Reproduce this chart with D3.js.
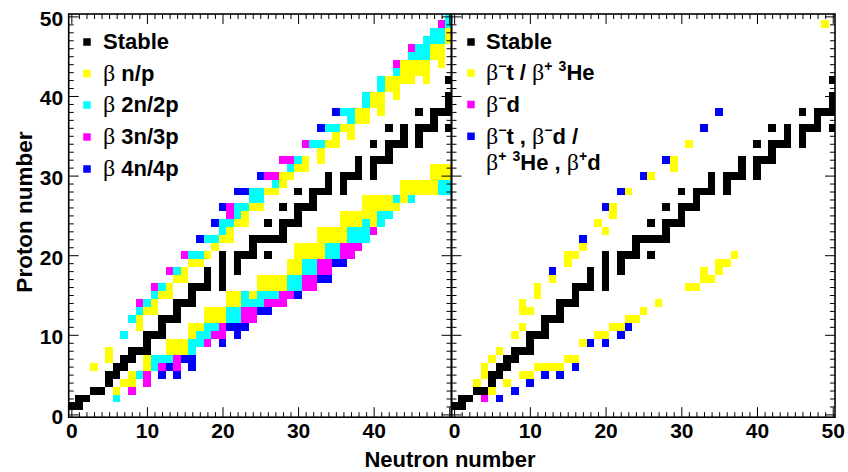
<!DOCTYPE html>
<html>
<head>
<meta charset="utf-8">
<script src="https://cdn.jsdelivr.net/npm/d3@7"></script>
<style>
  body { margin: 0; background: #fff; }
  svg { display: block; }
</style>
</head>
<body>
<svg id="chart" width="848" height="472"></svg>
<script>
// ---- Cells are [N, Z] pairs (neutron number, proton number) ----

// Stable nuclides (drawn in both panels)
const stable = [
  [0,1],[1,1],[1,2],[2,2],[3,3],[4,3],[5,4],[5,5],[6,5],[6,6],[7,6],[7,7],[8,7],
  [8,8],[9,8],[10,8],[10,9],[10,10],[11,10],[12,10],[12,11],[12,12],[13,12],[14,12],
  [14,13],[14,14],[15,14],[16,14],[16,15],[16,16],[17,16],[18,16],[20,16],[18,17],[20,17],
  [18,18],[20,18],[22,18],[20,19],[22,19],[20,20],[22,20],[23,20],[24,20],[26,20],[24,21],
  [24,22],[25,22],[26,22],[27,22],[28,22],[28,23],[26,24],[28,24],[29,24],[30,24],[30,25],
  [28,26],[30,26],[31,26],[32,26],[32,27],[30,28],[32,28],[33,28],[34,28],[36,28],[34,29],[36,29],
  [34,30],[36,30],[37,30],[38,30],[40,30],[38,31],[40,31],[38,32],[40,32],[41,32],[42,32],[42,33],
  [40,34],[42,34],[43,34],[44,34],[46,34],[44,35],[46,35],[42,36],[44,36],[46,36],[47,36],[48,36],[50,36],
  [48,37],[46,38],[48,38],[49,38],[50,38],[50,39],[50,40],[50,42]
];

// Left panel: beta-delayed emission of one nucleon
const betaOne = [
  [3,6],[5,7],[5,8],[9,11],[9,12],[10,13],[11,13],[11,14],[12,15],[13,15],[13,16],[14,17],[15,17],
  [15,18],[16,19],[17,19],[18,20],[19,21],[20,22],[21,22],[21,23],[22,24],[23,24],[23,25],[24,26],
  [25,26],[26,28],[27,28],[28,29],[28,30],[29,30],[30,31],[31,31],[31,32],[33,32],[33,33],[34,34],
  [35,34],[35,35],[37,35],[36,36],[37,36],[38,37],[39,37],[38,38],[39,38],[41,38],[40,39],[41,39],
  [40,40],[41,40],[43,40],[42,41],[43,41],[42,42],[43,42],[44,42],[45,42],[47,42],[44,43],[45,43],
  [46,43],[47,43],[44,44],[45,44],[46,44],[47,44],[49,44],[48,45],[49,45],[48,46],[49,46],[50,47],[50,48],
  [6,3],[7,4],[8,4],[8,5],[10,6],[10,7],[13,8],[14,8],[15,8],[13,9],[14,9],[15,9],[16,10],[16,11],
  [17,11],[18,12],[19,12],[20,12],[18,13],[19,13],[20,13],[21,14],[22,14],[21,15],[22,15],[24,15],
  [25,16],[26,16],[27,16],[28,16],[25,17],[26,17],[27,17],[28,17],[29,18],[30,18],[29,19],[30,19],
  [30,20],[31,20],[32,20],[33,20],[30,21],[31,21],[32,21],[33,21],[33,22],[34,22],[35,22],[36,22],
  [33,23],[34,23],[35,23],[36,23],[36,24],[37,24],[38,24],[40,24],[36,25],[37,25],[38,25],[39,25],
  [40,25],[39,26],[40,26],[41,26],[42,26],[43,26],[39,27],[40,27],[41,27],[42,27],[44,27],[44,28],
  [45,28],[46,28],[47,28],[48,28],[44,29],[45,29],[46,29],[47,29],[48,29],[48,30],[49,30],[50,30],
  [48,31],[49,31],[50,31]
];

// Left panel: two nucleons
const betaTwo = [
  [7,10],[8,12],[9,13],[10,14],[11,15],[12,16],[14,18],[16,20],[17,20],[18,22],[19,22],[20,23],
  [20,24],[21,24],[22,25],[22,26],[23,26],[24,27],[25,27],[24,28],[25,28],[27,29],[29,31],[30,32],
  [32,34],[33,34],[34,36],[35,36],[37,37],[36,38],[37,38],[39,39],[39,40],[41,41],[41,42],[43,43],
  [45,45],[46,45],[47,45],[46,46],[47,46],[47,47],[48,47],[49,47],[48,48],[49,48],[50,49],[50,50],
  [6,2],[9,5],[11,6],[11,7],[12,7],[13,7],[16,8],[16,9],[17,9],[17,10],[18,10],[18,11],[19,11],
  [21,12],[22,12],[21,13],[22,13],[23,14],[24,14],[25,14],[23,15],[25,15],[26,15],[27,15],[29,16],
  [30,16],[29,17],[30,17],[31,18],[32,18],[31,19],[32,19],[34,20],[35,20],[34,21],[35,21],[37,22],
  [38,22],[39,22],[37,23],[38,23],[39,23],[39,24],[41,24],[41,25],[42,25],[43,27],[45,27],[49,28],
  [50,28],[49,29],[50,29]
];

// Left panel: three nucleons
const betaThree = [
  [9,14],[11,16],[13,18],[15,20],[21,25],[21,26],[26,30],[27,30],[28,32],[29,32],[31,34],[43,44],
  [45,46],[49,49],
  [8,3],[10,4],[10,5],[12,6],[14,6],[14,7],[18,9],[19,10],[20,10],[20,11],[23,12],[24,12],[23,13],
  [24,13],[26,14],[27,14],[28,14],[28,15],[29,15],[31,16],[32,16],[31,17],[32,17],[33,18],[34,18],
  [33,19],[34,19],[36,20],[37,20],[36,21],[37,21],[38,21],[40,23]
];

// Left panel: four nucleons
const betaFour = [
  [17,22],[19,24],[20,26],[22,28],[23,28],[25,30],[33,36],[35,38],
  [12,5],[14,5],[13,6],[16,6],[15,7],[16,7],[20,9],[22,10],[21,11],[22,11],[23,11],[25,13],[26,13],
  [30,15],[33,17],[34,17],[35,19],[36,19]
];

// Right panel: triton / helion emission
const tritonHelion = [
  [3,4],[4,5],[4,6],[5,7],[6,8],[8,10],[9,11],[9,13],[10,13],[9,14],[11,15],[11,16],[13,17],[15,19],
  [15,20],[16,20],[17,21],[20,23],[19,24],[21,25],[21,26],[23,28],[26,30],[29,31],[29,32],[31,34],[49,49],
  [5,3],[7,4],[9,5],[10,5],[11,6],[12,6],[13,6],[14,6],[15,7],[16,7],[17,9],[19,10],[20,10],[21,11],
  [22,11],[23,12],[24,12],[25,13],[27,14],[31,16],[32,16],[33,17],[34,17],[33,18],[35,18],[35,19],
  [36,19],[37,20]
];

// Right panel: deuteron emission
const deuteron = [[4,2]];

// Right panel: both channels open
const bothChannels = [
  [6,2],[8,3],[10,4],[12,5],[14,5],[16,6],[18,9],[20,9],[22,10],[23,11],
  [17,22],[13,18],[20,26],[22,28],[25,30],[28,32],[33,36],[35,38]
];

const xMajor = [0, 10, 20, 30, 40, 50];
const yMajor = [0, 10, 20, 30, 40, 50];
const leftXLabels = [0, 10, 20, 30, 40];
const rightXLabels = [0, 10, 20, 30, 40, 50];

// ---- Layout ----
const svg = d3.select('#chart');
const SANS = '"Liberation Sans", Arial, Helvetica, sans-serif';
const SERIF = '"Liberation Serif", "DejaVu Serif", serif';
const domain = [-0.35, 50.3];
const frameTop = 14, frameBottom = 417.2;
const y = d3.scaleLinear().domain(domain).range([frameBottom, frameTop]);
const minorVals = d3.range(0, 51).filter(v => v % 10 !== 0);

const panels = [
  { x0: 68.7, x1: 451.5, xLabels: leftXLabels, yLabels: true,
    layers: [
      { cells: stable, color: '#000000' },
      { cells: betaOne, color: '#ffff00' },
      { cells: betaTwo, color: '#00ffff' },
      { cells: betaThree, color: '#ff00ff' },
      { cells: betaFour, color: '#0000ff' }
    ] },
  { x0: 451.5, x1: 835, xLabels: rightXLabels, yLabels: false,
    layers: [
      { cells: stable, color: '#000000' },
      { cells: tritonHelion, color: '#ffff00' },
      { cells: deuteron, color: '#ff00ff' },
      { cells: bothChannels, color: '#0000ff' }
    ] }
];

const defs = svg.append('defs');

panels.forEach((p, i) => {
  const x = d3.scaleLinear().domain(domain).range([p.x0, p.x1]);
  defs.append('clipPath').attr('id', 'frame' + i)
    .append('rect').attr('x', p.x0).attr('y', frameTop)
    .attr('width', p.x1 - p.x0).attr('height', frameBottom - frameTop);

  const cellG = svg.append('g').attr('clip-path', `url(#frame${i})`);
  p.layers.forEach(layer => {
    cellG.append('g').selectAll('rect').data(layer.cells).join('rect')
      .attr('x', d => x(d[0] - 0.5))
      .attr('y', d => y(d[1] + 0.5))
      .attr('width', d => x(d[0] + 0.5) - x(d[0] - 0.5))
      .attr('height', d => y(d[1] - 0.5) - y(d[1] + 0.5))
      .attr('fill', layer.color)
      .attr('shape-rendering', 'crispEdges');
  });

  const styleAxis = g => {
    g.select('.domain').remove();
    g.selectAll('line').attr('stroke', '#000').attr('stroke-width', 1);
    g.selectAll('text').attr('font-family', SANS).attr('font-weight', 'bold')
      .attr('font-size', 21).attr('fill', '#000');
  };

  // bottom axis with labels
  svg.append('g').attr('transform', `translate(0,${frameBottom})`)
    .call(d3.axisBottom(x).tickValues(xMajor).tickSize(-10).tickPadding(6)
      .tickFormat(d => p.xLabels.includes(d) ? d : ''))
    .call(styleAxis);
  svg.append('g').attr('transform', `translate(0,${frameBottom})`)
    .call(d3.axisBottom(x).tickValues(minorVals).tickSize(-5).tickFormat(''))
    .call(styleAxis);
  // top axis
  svg.append('g').attr('transform', `translate(0,${frameTop})`)
    .call(d3.axisTop(x).tickValues(xMajor).tickSize(-10).tickFormat(''))
    .call(styleAxis);
  svg.append('g').attr('transform', `translate(0,${frameTop})`)
    .call(d3.axisTop(x).tickValues(minorVals).tickSize(-5).tickFormat(''))
    .call(styleAxis);
  // left axis
  svg.append('g').attr('transform', `translate(${p.x0},0)`)
    .call(d3.axisLeft(y).tickValues(yMajor).tickSize(-10).tickPadding(5.5)
      .tickFormat(d => p.yLabels ? d : ''))
    .call(styleAxis)
    .call(g => g.selectAll('text').attr('dy', '0.42em'));
  svg.append('g').attr('transform', `translate(${p.x0},0)`)
    .call(d3.axisLeft(y).tickValues(minorVals).tickSize(-5).tickFormat(''))
    .call(styleAxis);
  // right axis
  svg.append('g').attr('transform', `translate(${p.x1},0)`)
    .call(d3.axisRight(y).tickValues(yMajor).tickSize(-10).tickFormat(''))
    .call(styleAxis);
  svg.append('g').attr('transform', `translate(${p.x1},0)`)
    .call(d3.axisRight(y).tickValues(minorVals).tickSize(-5).tickFormat(''))
    .call(styleAxis);

  // frame
  svg.append('rect').attr('x', p.x0).attr('y', frameTop)
    .attr('width', p.x1 - p.x0).attr('height', frameBottom - frameTop)
    .attr('fill', 'none').attr('stroke', '#000').attr('stroke-width', 1.6);
});

// ---- Axis titles ----
svg.append('text').attr('x', 450).attr('y', 466.5)
  .attr('text-anchor', 'middle').attr('font-family', SANS).attr('font-weight', 'bold')
  .attr('font-size', 22).text('Neutron number');
svg.append('text').attr('transform', 'translate(32,212) rotate(-90)')
  .attr('text-anchor', 'middle').attr('font-family', SANS).attr('font-weight', 'bold')
  .attr('font-size', 22.5).text('Proton number');

// ---- Legends ----
// Each entry: list of runs {t, sym (Greek glyph), sup (raised)}
function drawRuns(textSel, runs) {
  let raised = false;
  runs.forEach(r => {
    const ts = textSel.append('tspan').text(r.t);
    if (r.sym) ts.attr('font-family', SERIF).attr('font-weight', 'normal').attr('font-size', 24);
    if (r.sup && !raised) { ts.attr('dy', -9); raised = true; }
    else if (!r.sup && raised) { ts.attr('dy', 9); raised = false; }
    if (r.sup) ts.attr('font-size', 14);
  });
}

function legend(items, mx, tx) {
  items.forEach(it => {
    svg.append('rect').attr('x', mx - 3.75).attr('y', it.y - 3.75)
      .attr('width', 7.5).attr('height', 7.5).attr('fill', it.color);
    it.lines.forEach((runs, k) => {
      const t = svg.append('text').attr('x', tx).attr('y', it.y + 7.3 + k * 26)
        .attr('font-family', SANS).attr('font-weight', 'bold').attr('font-size', 22);
      drawRuns(t, runs);
    });
  });
}

legend([
  { y: 42, color: '#000000', lines: [[{ t: 'Stable' }]] },
  { y: 73.5, color: '#ffff00', lines: [[{ t: 'β', sym: true }, { t: ' n/p' }]] },
  { y: 105, color: '#00ffff', lines: [[{ t: 'β', sym: true }, { t: ' 2n/2p' }]] },
  { y: 137, color: '#ff00ff', lines: [[{ t: 'β', sym: true }, { t: ' 3n/3p' }]] },
  { y: 169, color: '#0000ff', lines: [[{ t: 'β', sym: true }, { t: ' 4n/4p' }]] }
], 87, 103);

legend([
  { y: 42, color: '#000000', lines: [[{ t: 'Stable' }]] },
  { y: 73, color: '#ffff00', lines: [[
    { t: 'β', sym: true }, { t: '−', sup: true }, { t: 't / ' },
    { t: 'β', sym: true }, { t: '+', sup: true }, { t: ' ' }, { t: '3', sup: true }, { t: 'He' }
  ]] },
  { y: 104.5, color: '#ff00ff', lines: [[{ t: 'β', sym: true }, { t: '−', sup: true }, { t: 'd' }]] },
  { y: 136.3, color: '#0000ff', lines: [
    [{ t: 'β', sym: true }, { t: '−', sup: true }, { t: 't , ' },
     { t: 'β', sym: true }, { t: '−', sup: true }, { t: 'd /' }],
    [{ t: 'β', sym: true }, { t: '+', sup: true }, { t: ' ' }, { t: '3', sup: true }, { t: 'He , ' },
     { t: 'β', sym: true }, { t: '+', sup: true }, { t: 'd' }]
  ] }
], 471, 486);
</script>
</body>
</html>
